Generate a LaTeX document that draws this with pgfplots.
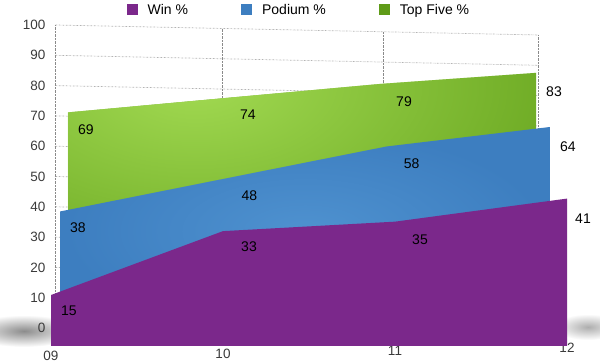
\documentclass[border=0pt]{standalone}
\usepackage{pgfplots}
\pgfplotsset{compat=1.18}
\usepackage{pgfplotstable}
\usetikzlibrary{fadings}
\usepackage{fontspec}
\setmainfont{Liberation Sans}

\definecolor{cpurple}{HTML}{7B288B}
\definecolor{cblue}{HTML}{3D7EC0}
\definecolor{cbluel}{HTML}{4F92D0}
\definecolor{cgreen}{HTML}{62A01A}
\definecolor{cgreenl}{HTML}{A2DA52}
\definecolor{cleg}{HTML}{5F9B18}
\definecolor{ctick}{HTML}{3A3A3A}
\definecolor{cgrid}{HTML}{8A8A8A}
\newcommand{\lbl}{\fontsize{14}{16}\selectfont}
\newcommand{\tkl}{\fontsize{13.5}{16}\selectfont}
\tikzfading[name=glow, inner color=transparent!0, outer color=transparent!100]
\begin{tikzfadingfrompicture}[name=glowtl]
  \fill[transparent!100] (-2cm,-2cm) rectangle (2cm,2cm);
  \shade[inner color=transparent!0, outer color=transparent!100] (-0.5cm,1.3cm) circle (1.7cm);
\end{tikzfadingfrompicture}

\pgfplotstableread{
x y dx dy
0 69 18 17
1 74 24 17
2 79 24 18
3 83 18 19
}\greendata
\pgfplotstableread{
x y dx dy
0 38 18 16.5
1 48 26 17
2 58 25 17.5
3 64 18 20
}\bluedata
\pgfplotstableread{
x y dx dy
0 15 18 16
1 33 26 16
2 35 25 18
3 41 16 20
}\purpledata

\pgfplotsset{
  /pgf/number format/assume math mode=true,
  seriesaxis/.style={
    anchor=origin, xmin=0, xmax=3, ymin=0, ymax=100, clip=false,
    axis line style={draw=none}, major tick length=0pt, ytick=\empty,
  },
  labelplot/.style={
    draw=none, mark=none, nodes near coords,
    point meta=explicit,
    visualization depends on={\thisrow{dx} \as \dx},
    visualization depends on={\thisrow{dy} \as \dy},
    every node near coord/.append style={anchor=center, xshift=\dx pt, yshift=-\dy pt, font=\lbl, text=black},
  },
}

\begin{document}
\begin{tikzpicture}
\useasboundingbox (0,0) rectangle (600pt,363pt);
% floor shadows
\shade[inner color=black!45, outer color=white] (24pt,32pt) ellipse (56pt and 16pt);
\shade[inner color=black!32, outer color=white] (588pt,36pt) ellipse (34pt and 13pt);

% back wall with grid
\begin{axis}[
  at={(55pt,35pt)}, anchor=origin,
  x={(161pt,-3.33pt)}, y={(0pt,3.03pt)},
  xmin=0, xmax=3, ymin=0, ymax=100,
  xtick={0,1.04,2.04,3}, xticklabels={},
  ytick={0,10,...,100},
  grid=major, major grid style={cgrid, densely dotted, line width=0.7pt},
  axis line style={draw=none}, major tick length=0pt,
  yticklabel style={font=\tkl, text=ctick, anchor=east, xshift=-6pt},
  legend columns=3,
  legend style={at={(0.505,1.048)}, anchor=center, draw=none, fill=none, font=\lbl,
    /tikz/every even column/.append style={column sep=51pt}},
  legend image code/.code={\fill[#1] (0pt,-5.5pt) rectangle (11pt,5.5pt); \path (19pt,0pt);},
]
\addlegendimage{fill=cpurple, draw=none}
\addlegendentry{Win \%}
\addlegendimage{fill=cblue, draw=none}
\addlegendentry{Podium \%}
\addlegendimage{fill=cleg, draw=none}
\addlegendentry{Top Five \%}
\end{axis}

% Top Five % (back)
\begin{axis}[seriesaxis, at={(68pt,36pt)}, x={(156pt,-1.33pt)}, y={(0pt,3.11pt)}, xtick=\empty]
\addplot[draw=none, fill=cgreen, postaction={fill=cgreenl, path fading=glowtl}] table[x=x,y=y]{\greendata} \closedcycle;
\addplot[labelplot] table[x=x,y=y,meta=y]{\greendata};
\end{axis}

% Podium % (middle)
\begin{axis}[seriesaxis, at={(60pt,28pt)}, x={(163.3pt,0pt)}, y={(0pt,3.25pt)}, xtick=\empty]
\addplot[draw=none, fill=cblue, postaction={fill=cbluel, path fading=glow}] table[x=x,y=y]{\bluedata} \closedcycle;
\addplot[labelplot] table[x=x,y=y,meta=y]{\bluedata};
\end{axis}

% Win % (front)
\begin{axis}[seriesaxis, at={(51pt,17pt)}, x={(172pt,2.67pt)}, y={(0pt,3.4pt)},
  xtick={0,1,2,3}, xticklabels={09,10,11,12},
  xticklabel style={font=\tkl, text=ctick, anchor=north, yshift=-2pt}]
\addplot[draw=none, fill=cpurple] table[x=x,y=y]{\purpledata} \closedcycle;
\addplot[labelplot] table[x=x,y=y,meta=y]{\purpledata};
\end{axis}
\end{tikzpicture}
\end{document}
